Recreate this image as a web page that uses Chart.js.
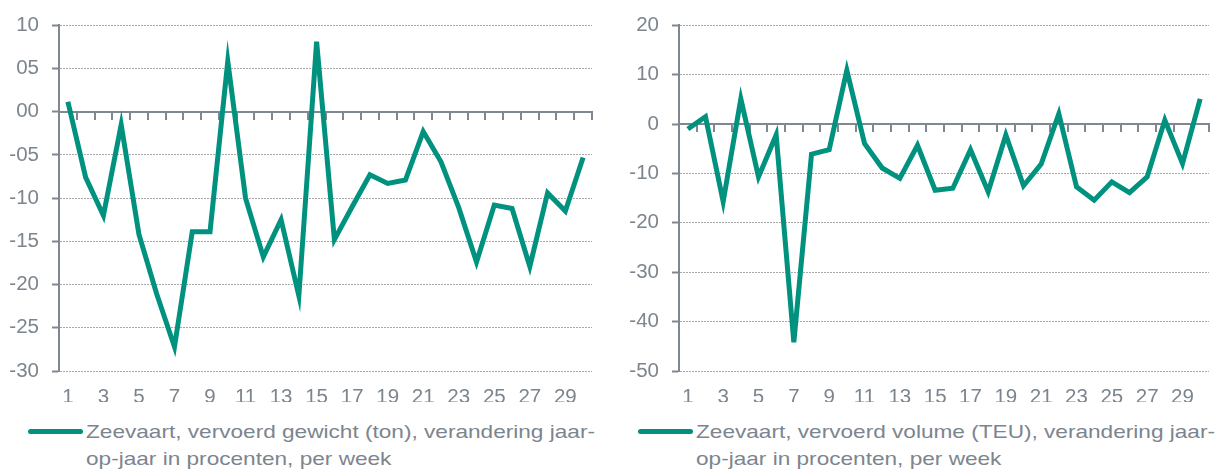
<!DOCTYPE html>
<html>
<head>
<meta charset="utf-8">
<script src="https://cdn.jsdelivr.net/npm/chart.js@4.4.1/dist/chart.umd.min.js"></script>
<style>
  html, body { margin: 0; padding: 0; background: #fff; }
  body { width: 1219px; height: 471px; position: relative; overflow: hidden; font-family: "Liberation Sans", Arial, sans-serif; }
  .wrap { position: absolute; top: 0; height: 402px; }
  .legend { position: absolute; top: 418px; color: #7c858e; font-size: 19px; line-height: 27px; }
  .legend .sw { position: absolute; left: 0; top: 11px; height: 5px; border-radius: 3px; }
  .legend .txt { position: absolute; top: 0; white-space: nowrap; transform: scaleX(1.19); transform-origin: 0 0; }
</style>
</head>
<body>
<div class="wrap" id="w1" style="left:0;width:600px;"><canvas id="c1"></canvas></div>
<div class="wrap" id="w2" style="left:610px;width:609px;"><canvas id="c2"></canvas></div>
<div class="legend" id="l1" style="left:28px;"></div>
<div class="legend" id="l2" style="left:638px;"></div>
<script>
const weeks = Array.from({length: 30}, (_, i) => String(i + 1));

const gewichtLabel = ["Zeevaart, vervoerd gewicht (ton), verandering jaar-", "op-jaar in procenten, per week"];
const gewichtValues = [1.15, -7.6, -12.0, -1.5, -14.2, -21.1, -27.2, -13.9, -13.9, 5.85,
  -10.0, -16.8, -12.5, -21.3, 8.1, -14.8, -11.0, -7.3, -8.3, -7.9,
  -2.3, -5.8, -11.1, -17.4, -10.8, -11.2, -17.9, -9.4, -11.5, -5.3];
const gewichtTicks = { min: -30, max: 10, step: 5 };

const volumeLabel = ["Zeevaart, vervoerd volume (TEU), verandering jaar-", "op-jaar in procenten, per week"];
const volumeValues = [-1.0, 1.5, -15.7, 5.1, -10.7, -2.2, -44.2, -6.1, -5.2, 10.9,
  -3.9, -8.9, -11.0, -4.3, -13.4, -13.0, -5.2, -13.7, -2.2, -12.5,
  -8.1, 2.1, -12.7, -15.4, -11.7, -13.9, -10.7, 0.8, -8.0, 5.1];
const volumeTicks = { min: -50, max: 20, step: 10 };

const LINE = '#00927f';
const AXIS = '#7f8890';
const TEXT = '#7c858e';
const GRID = '#a9a9a9';
const FONT = { family: '"Liberation Sans", Arial, sans-serif', size: 20.5 };

function makeChart(canvasId, legendId, labelLines, values, t, yWidth, padRight, pad2) {
  const chart = new Chart(document.getElementById(canvasId), {
    type: 'line',
    data: {
      labels: weeks,
      datasets: [{
        label: labelLines.join(' '),
        data: values,
        borderColor: LINE,
        backgroundColor: LINE,
        borderWidth: 5,
        pointRadius: 0,
        tension: 0,
        xAxisID: 'x',
        yAxisID: 'y'
      }]
    },
    options: {
      responsive: true,
      maintainAspectRatio: false,
      animation: false,
      layout: { padding: { top: 24, right: padRight, left: 0, bottom: 0 } },
      plugins: { legend: { display: false }, tooltip: { enabled: false } },
      scales: {
        x: {
          type: 'category',
          offset: true,
          grid: { display: false, drawTicks: false },
          border: { display: false },
          ticks: {
            autoSkip: false, maxRotation: 0, padding: 14,
            color: TEXT, font: FONT,
            callback: (v, i) => (i % 2 === 0 ? weeks[i] : '')
          },
          afterFit: s => { s.height = 31; }
        },
        x2: {
          type: 'category',
          position: { y: 0 },
          offset: true,
          grid: { display: true, offset: true, drawOnChartArea: false, drawTicks: true, tickLength: 7, color: AXIS, lineWidth: 2 },
          border: { display: true, color: AXIS, width: 2 },
          ticks: { display: false },
          afterFit: s => { s.height = 0; }
        },
        y: {
          min: t.min, max: t.max,
          grid: {
            color: GRID, lineWidth: 1,
            drawTicks: true, tickLength: 7, tickColor: AXIS, tickWidth: 2
          },
          border: { display: true, color: AXIS, width: 2, dash: [2, 1] },
          ticks: {
            stepSize: t.step, padding: 13, color: TEXT, font: FONT,
            callback: pad2 ? (v) => (v < 0 ? '-' + String(Math.abs(v)).padStart(2, '0') : String(v).padStart(2, '0')) : (v) => String(v)
          },
          afterFit: s => { s.width = yWidth; }
        }
      }
    }
  });
  // HTML legend built from the dataset
  const leg = document.getElementById(legendId);
  const ds = chart.data.datasets[0];
  const sw = document.createElement('div');
  sw.className = 'sw';
  sw.style.width = '55px';
  sw.style.background = ds.borderColor;
  leg.appendChild(sw);
  const txt = document.createElement('div');
  txt.className = 'txt';
  txt.style.left = '58px';
  labelLines.forEach((ln) => {
    const d = document.createElement('div');
    d.textContent = ln;
    txt.appendChild(d);
  });
  leg.appendChild(txt);
  return chart;
}

makeChart('c1', 'l1', gewichtLabel, gewichtValues, gewichtTicks, 59, 8, true);
makeChart('c2', 'l2', volumeLabel, volumeValues, volumeTicks, 69, 10, false);
</script>
</body>
</html>
